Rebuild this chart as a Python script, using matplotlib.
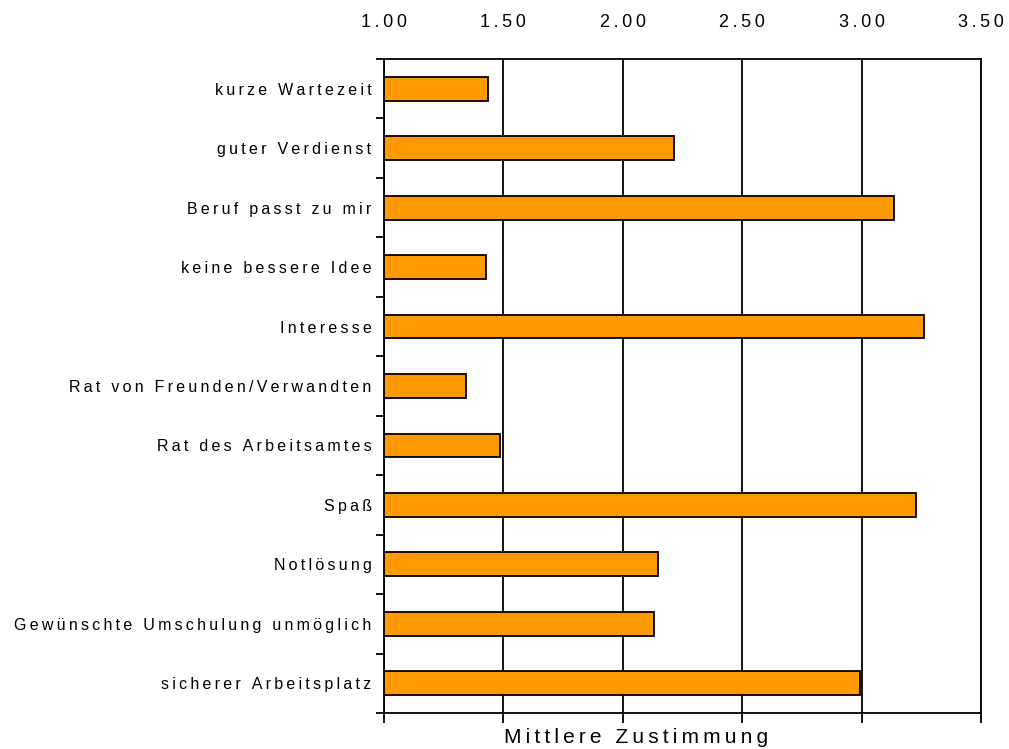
import matplotlib.pyplot as plt
import numpy as np

plt.rcParams['font.family'] = ['Liberation Sans', 'DejaVu Sans']

categories = ['kurze Wartezeit', 'guter Verdienst', 'Beruf passt zu mir',
              'keine bessere Idee', 'Interesse', 'Rat von Freunden/Verwandten',
              'Rat des Arbeitsamtes', 'Spaß', 'Notlösung',
              'Gewünschte Umschulung unmöglich', 'sicherer Arbeitsplatz']
values = [1.435, 2.214, 3.136, 1.427, 3.261, 1.343, 1.486, 3.228, 2.147, 2.131, 2.993]
xticks = [1.0, 1.5, 2.0, 2.5, 3.0, 3.5]


def spaced(s):
    # fake letter spacing like the original
    return '\u2009'.join(s)


fig = plt.figure(figsize=(10.09, 7.49), dpi=100)
ax = fig.add_axes([0.3806, 0.0481, 0.5917, 0.8731])

y = np.arange(len(categories))
ax.barh(y, np.array(values) - 1.0, left=1.0, height=0.4,
        color='#FF9900', edgecolor='black', linewidth=1.3, zorder=3)

ax.set_xlim(1.0, 3.5)
ax.set_ylim(len(categories) - 0.5, -0.5)

ax.set_xticks(xticks)
ax.set_xticklabels([spaced(f'{t:.2f}') for t in xticks], fontsize=13)
ax.tick_params(axis='x', bottom=True, top=False, labelbottom=False, labeltop=True,
               direction='out', length=7, width=1.3, pad=13)
ax.grid(axis='x', color='black', linewidth=1.3)
ax.set_axisbelow(True)

ax.set_yticks(y)
ax.set_yticklabels([spaced(c) for c in categories], fontsize=11.5)
ax.set_yticks(np.arange(-0.5, len(categories), 1.0), minor=True)
ax.tick_params(axis='y', which='major', length=0, pad=9)
ax.tick_params(axis='y', which='minor', length=6, width=1.3, direction='out')

for sp in ax.spines.values():
    sp.set_linewidth(1.3)

ax.set_xlabel(spaced('Mittlere Zustimmung'), fontsize=15, labelpad=4, x=0.422)

fig.savefig('out.png', dpi=100)
